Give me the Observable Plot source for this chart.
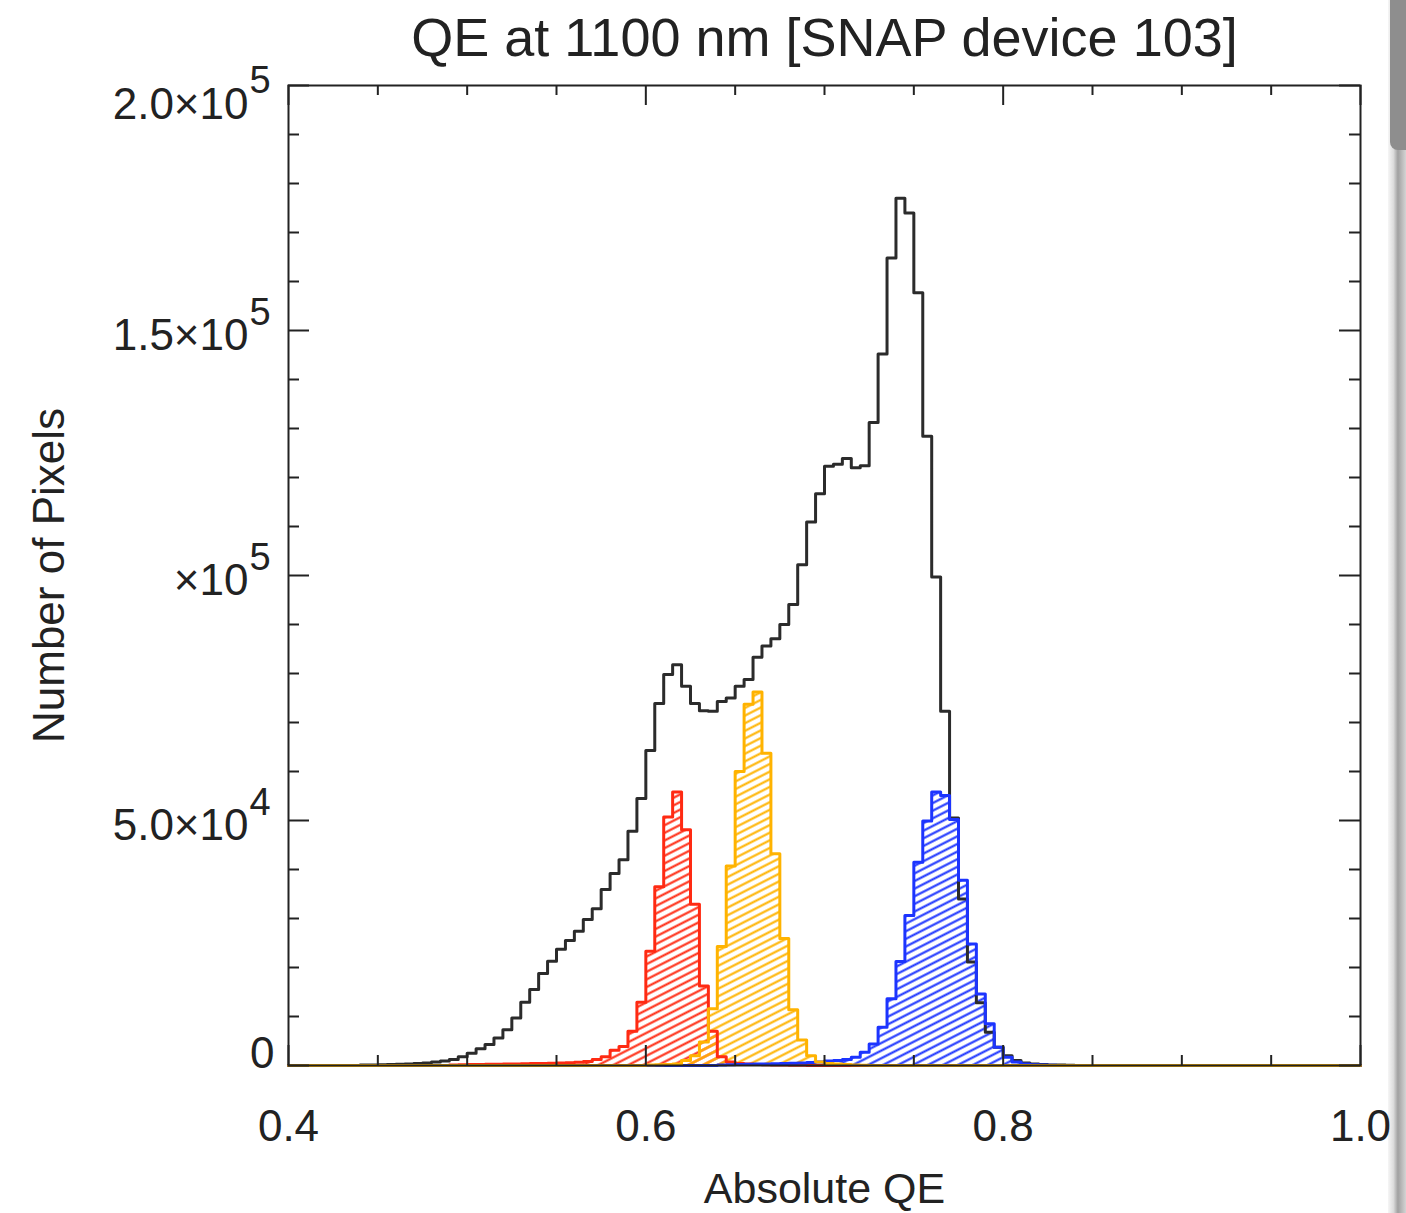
<!DOCTYPE html>
<html>
<head>
<meta charset="utf-8">
<script src="https://cdn.jsdelivr.net/npm/d3@7"></script>
<script src="https://cdn.jsdelivr.net/npm/@observablehq/plot@0.6"></script>
<style>
  html, body { margin: 0; padding: 0; background: #fff; }
  #wrap { position: relative; width: 1406px; height: 1213px; overflow: hidden; background: #fff; }
  #edge { position: absolute; top: 0; left: 1388px; width: 18px; height: 1213px;
          background: linear-gradient(to right, #f6f6f6 0%, #dcdcdc 30%, #a0a0a0 55%, #b8b8b8 75%, #d4d4d4 100%); }
  #edgeTop { position: absolute; top: 0; left: 1390px; width: 16px; height: 150px;
             background: #8e8e8e; border-radius: 0 0 0 8px; }
  #chart { position: absolute; top: 0; left: 0; }
</style>
</head>
<body>
<div id="wrap"><div id="edge"></div><div id="edgeTop"></div><div id="chart"></div></div>
<script>
// ---------------- data ----------------
const titleText = "QE at 1100 nm [SNAP device 103]";
const xLabel = "Absolute QE";
const yLabel = "Number of Pixels";

// left edge of each histogram bin (bin width 0.005); last entry closes the histogram
const binLeft = [
  0.40,
  0.440, 0.445, 0.450, 0.455, 0.460, 0.465, 0.470, 0.475, 0.480, 0.485,
  0.490, 0.495, 0.500, 0.505, 0.510, 0.515, 0.520, 0.525, 0.530, 0.535,
  0.540, 0.545, 0.550, 0.555, 0.560, 0.565, 0.570, 0.575, 0.580, 0.585,
  0.590, 0.595, 0.600, 0.605, 0.610, 0.615, 0.620, 0.625, 0.630, 0.635,
  0.640, 0.645, 0.650, 0.655, 0.660, 0.665, 0.670, 0.675, 0.680, 0.685,
  0.690, 0.695, 0.700, 0.705, 0.710, 0.715, 0.720, 0.725, 0.730, 0.735,
  0.740, 0.745, 0.750, 0.755, 0.760, 0.765, 0.770, 0.775, 0.780, 0.785,
  0.790, 0.795, 0.800, 0.805, 0.810, 0.815, 0.820, 0.825, 0.830, 0.835,
  0.840, 0.845,
  0.850, 1.00
];

// whole device (black outline)
const countAll = [
  0,
  100, 100, 150, 200, 250, 300, 400, 500, 700, 900,
  1200, 1800, 2500, 3400, 4300, 5600, 7300, 9700, 12900, 15500,
  18800, 21300, 23700, 25500, 27400, 29800, 32000, 35900, 39200, 42000,
  47800, 54500, 64300, 73900, 79800, 81800, 77400, 73900, 72400, 72300,
  74300, 75000, 77400, 78800, 83300, 85600, 87100, 90000, 94100, 102200,
  110900, 116700, 122300, 122700, 123900, 122000, 122400, 131200, 145200, 164800,
  177000, 174000, 157700, 128400, 99700, 72300, 50500, 34000, 21100, 12800,
  6800, 3700, 2000, 1000, 500, 300, 200, 100, 100, 50,
  0, 0,
  0, 0
];

// red hatched histogram
const countRed = [
  0,
  0, 0, 0, 0, 0, 0, 0, 0, 0, 0,
  100, 150, 200, 200, 250, 250, 300, 300, 350, 400,
  400, 450, 500, 550, 650, 800, 1200, 1800, 3100, 3900,
  7000, 12900, 23300, 36500, 50700, 55800, 48100, 32900, 16200, 7000,
  1800, 700, 400, 300, 200, 150, 100, 100, 50, 50,
  0, 0, 0, 0, 0, 0, 0, 0, 0, 0,
  0, 0, 0, 0, 0, 0, 0, 0, 0, 0,
  0, 0, 0, 0, 0, 0, 0, 0, 0, 0,
  0, 0,
  0, 0
];

// yellow hatched histogram
const countYellow = [
  0,
  0, 0, 0, 0, 0, 0, 0, 0, 0, 0,
  0, 0, 0, 0, 0, 0, 0, 0, 0, 0,
  0, 0, 0, 0, 0, 0, 0, 0, 0, 0,
  0, 0, 100, 150, 200, 300, 1000, 2000, 4800, 11600,
  24300, 40700, 60000, 73700, 76200, 63700, 43200, 25900, 11400, 5200,
  2000, 700, 400, 300, 200, 100, 50, 0, 0, 0,
  0, 0, 0, 0, 0, 0, 0, 0, 0, 0,
  0, 0, 0, 0, 0, 0, 0, 0, 0, 0,
  0, 0,
  0, 0
];

// blue hatched histogram
const countBlue = [
  0,
  0, 0, 0, 0, 0, 0, 0, 0, 0, 0,
  0, 0, 0, 0, 0, 0, 0, 0, 0, 0,
  0, 0, 0, 0, 0, 0, 0, 0, 0, 0,
  0, 0, 0, 0, 0, 0, 0, 0, 0, 0,
  100, 150, 200, 250, 300, 300, 350, 400, 450, 500,
  600, 700, 900, 1000, 1200, 1700, 2700, 4400, 7800, 13600,
  21200, 30600, 41500, 49900, 55800, 55100, 50200, 37800, 24800, 14600,
  8500, 3700, 1700, 700, 300, 150, 100, 50, 0, 0,
  0, 0,
  0, 0
];

const xMajor = [0.4, 0.6, 0.8, 1.0];
const xTickLabels = ["0.4", "0.6", "0.8", "1.0"];
const xMinor = [0.45, 0.5, 0.55, 0.65, 0.7, 0.75, 0.85, 0.9, 0.95];
const yMajor = [0, 50000, 100000, 150000, 200000];
const yTickBase = ["0", "5.0×10", "×10", "1.5×10", "2.0×10"];
const yTickExp = ["", "4", "5", "5", "5"];
const yMinor = [10000, 20000, 30000, 40000, 60000, 70000, 80000, 90000,
                110000, 120000, 130000, 140000, 160000, 170000, 180000, 190000];

// ---------------- tables ----------------
const hist = binLeft.map((x, i) => ({
  x, all: countAll[i], red: countRed[i], yellow: countYellow[i], blue: countBlue[i]
}));
const yTicks = yMajor.map((v, i) => ({v, base: yTickBase[i], exp: yTickExp[i]}));
const xTicks = xMajor.map((v, i) => ({v, label: xTickLabels[i]}));

// ---------------- layout / style ----------------
const W = 1406, H = 1213, mL = 288, mR = 46, mT = 85, mB = 148;
const fw = W - mL - mR, fh = H - mT - mB;
const ink = "#222";
const cRed = "#ff2a12", cYellow = "#ffb300", cBlue = "#1c34ff", cBlack = "#2b2b2b";
const font = "'Liberation Sans', Arial, Helvetica, sans-serif";
const lw = 3;

const midTicks = yTicks.filter(d => d.v > 0 && d.v < 200000);
const topTicks = yTicks.filter(d => d.v === 200000);
const zeroTicks = yTicks.filter(d => d.v === 0);

const chart = Plot.plot({
  width: W, height: H,
  marginLeft: mL, marginRight: mR, marginTop: mT, marginBottom: mB,
  x: {domain: [0.4, 1.0], axis: null},
  y: {domain: [0, 200000], axis: null},
  style: {fontFamily: font, color: ink, background: "transparent", overflow: "visible"},
  marks: [
    // hatched fills
    Plot.areaY(hist, {x: "x", y: "red", curve: "step-after", fill: "url(#hatch-red)"}),
    Plot.areaY(hist, {x: "x", y: "yellow", curve: "step-after", fill: "url(#hatch-yellow)"}),
    Plot.areaY(hist, {x: "x", y: "blue", curve: "step-after", fill: "url(#hatch-blue)"}),
    // outlines
    Plot.lineY(hist, {x: "x", y: "all", curve: "step-after", stroke: cBlack, strokeWidth: lw}),
    Plot.lineY(hist, {x: "x", y: "red", curve: "step-after", stroke: cRed, strokeWidth: lw}),
    Plot.lineY(hist, {x: "x", y: "blue", curve: "step-after", stroke: cBlue, strokeWidth: lw}),
    Plot.lineY(hist, {x: "x", y: "yellow", curve: "step-after", stroke: cYellow, strokeWidth: lw}),
    // frame and inward ticks on all four sides
    Plot.frame({stroke: ink, strokeWidth: 2}),
    Plot.tickX(xMajor, {x: d => d, insetTop: fh - 20, stroke: ink, strokeWidth: 2}),
    Plot.tickX(xMajor, {x: d => d, insetBottom: fh - 20, stroke: ink, strokeWidth: 2}),
    Plot.tickX(xMinor, {x: d => d, insetTop: fh - 10, stroke: ink, strokeWidth: 2}),
    Plot.tickX(xMinor, {x: d => d, insetBottom: fh - 10, stroke: ink, strokeWidth: 2}),
    Plot.tickY(yMajor, {y: d => d, insetRight: fw - 21, stroke: ink, strokeWidth: 2}),
    Plot.tickY(yMajor, {y: d => d, insetLeft: fw - 21, stroke: ink, strokeWidth: 2}),
    Plot.tickY(yMinor, {y: d => d, insetRight: fw - 11, stroke: ink, strokeWidth: 2}),
    Plot.tickY(yMinor, {y: d => d, insetLeft: fw - 11, stroke: ink, strokeWidth: 2}),
    // x tick labels
    Plot.text(xTicks, {x: "v", text: "label", frameAnchor: "bottom", lineAnchor: "bottom", dy: 75, fontSize: 44, fill: ink}),
    // y tick labels (mantissa + superscript exponent)
    Plot.text(zeroTicks, {y: "v", text: "base", frameAnchor: "left", textAnchor: "end", lineAnchor: "bottom", dx: -14, dy: 2, fontSize: 44, fill: ink}),
    Plot.text(midTicks, {y: "v", text: "base", frameAnchor: "left", textAnchor: "end", lineAnchor: "bottom", dx: -40, dy: 19, fontSize: 44, fill: ink}),
    Plot.text(midTicks, {y: "v", text: "exp", frameAnchor: "left", textAnchor: "start", lineAnchor: "bottom", dx: -39, dy: -6, fontSize: 38, fill: ink}),
    Plot.text(topTicks, {y: "v", text: "base", frameAnchor: "left", textAnchor: "end", lineAnchor: "bottom", dx: -40, dy: 33, fontSize: 44, fill: ink}),
    Plot.text(topTicks, {y: "v", text: "exp", frameAnchor: "left", textAnchor: "start", lineAnchor: "bottom", dx: -39, dy: 7, fontSize: 38, fill: ink}),
    // titles
    Plot.text([titleText], {text: d => d, frameAnchor: "top", textAnchor: "middle", lineAnchor: "bottom", dy: -30, fontSize: 54, fill: ink}),
    Plot.text([xLabel], {text: d => d, frameAnchor: "bottom", textAnchor: "middle", lineAnchor: "bottom", dy: 137, fontSize: 43, fill: ink}),
    Plot.text([yLabel], {text: d => d, frameAnchor: "left", textAnchor: "middle", lineAnchor: "bottom", rotate: -90, dx: -225, fontSize: 44, fill: ink})
  ]
});

// hatch patterns used as fills
const NS = "http://www.w3.org/2000/svg";
const defs = document.createElementNS(NS, "defs");
[["hatch-red", cRed], ["hatch-yellow", cYellow], ["hatch-blue", cBlue]].forEach(([id, col]) => {
  const p = document.createElementNS(NS, "pattern");
  p.setAttribute("id", id);
  p.setAttribute("patternUnits", "userSpaceOnUse");
  p.setAttribute("width", "12");
  p.setAttribute("height", "6.8");
  p.setAttribute("patternTransform", "rotate(-27)");
  const l = document.createElementNS(NS, "line");
  l.setAttribute("x1", "0"); l.setAttribute("x2", "12");
  l.setAttribute("y1", "3.4"); l.setAttribute("y2", "3.4");
  l.setAttribute("stroke", col); l.setAttribute("stroke-width", "2.1");
  p.appendChild(l);
  defs.appendChild(p);
});
chart.insertBefore(defs, chart.firstChild);

document.getElementById("chart").appendChild(chart);
</script>
</body>
</html>
